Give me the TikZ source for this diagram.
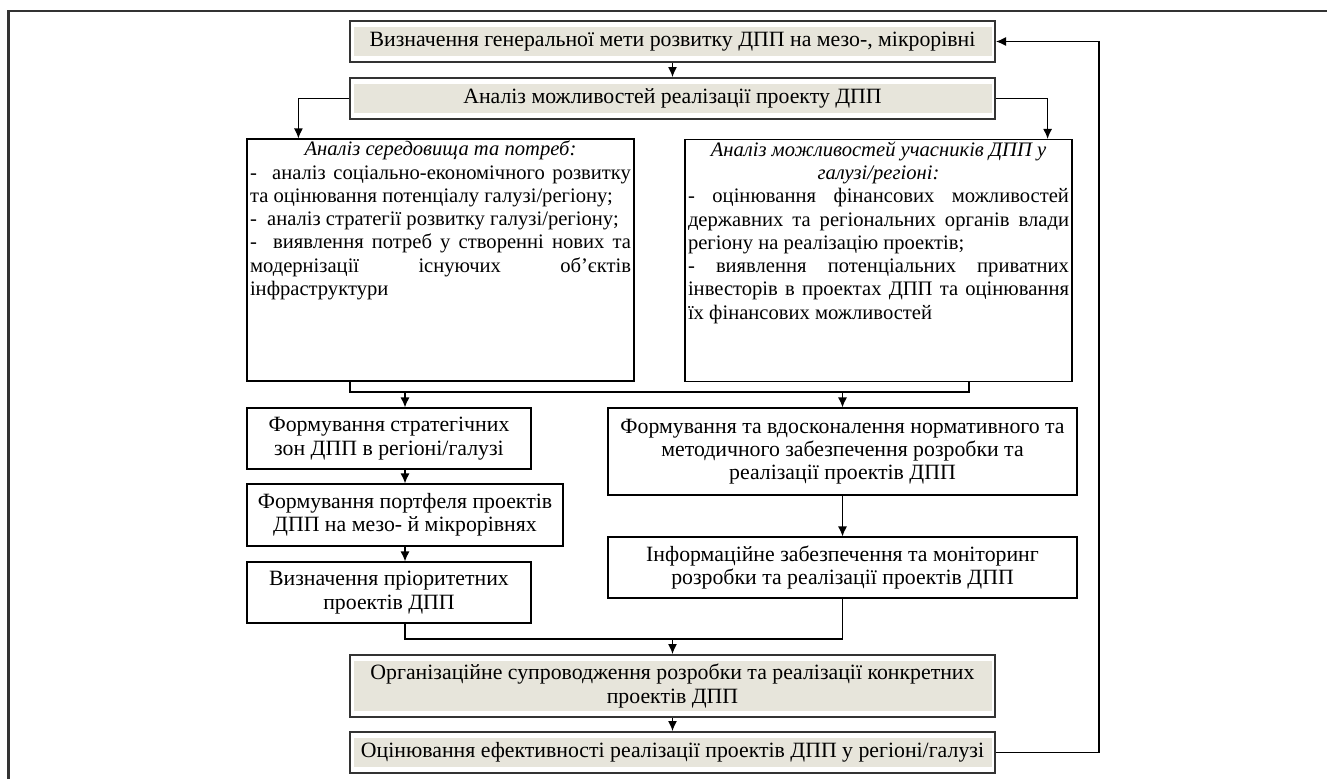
\documentclass[tikz,border=0pt]{standalone}
\usepackage{fontspec}
\setmainfont{Liberation Serif}
\usetikzlibrary{arrows.meta}
\definecolor{boxfill}{RGB}{231,229,219}
\definecolor{framegray}{RGB}{51,51,51}
\tikzset{>={Latex[length=5pt,width=4.5pt]}}
\tikzset{
	greybox/.style={
			draw=framegray, line width=1pt, fill=white, inner sep=0pt,
			minimum width=322.5pt, align=center,
			path picture={\fill[boxfill] ([shift={(1.75pt,3pt)}]path picture bounding box.south west)
					rectangle ([shift={(-1.75pt,-3pt)}]path picture bounding box.north east);}
		},
	whitebox/.style={draw, line width=0.6pt, inner sep=0pt, align=center},
	boxtext/.style={inner xsep=1.5pt, inner ysep=1pt, text width=190.5pt, align=justify,
			font=\fontsize{10.3}{11.65}\selectfont}
}

\begin{document}
\begin{tikzpicture}[x=0.5pt,y=-0.5pt,line width=0.6pt,font=\fontsize{10.9}{11.65}\selectfont]
		\useasboundingbox (0,0) rectangle (1327,778);
		\draw[framegray, line width=1.2pt] (1340,11) -- (8.5,11) -- (8.5,790);

		\node[greybox, minimum height=20.5pt] (goal) at (672.5,41.5) {Визначення генеральної мети розвитку ДПП на мезо-, мікрорівні};
		\node[greybox, minimum height=20.5pt] (anal) at (672.5,98.5) {Аналіз можливостей реалізації проекту ДПП};

		\node[whitebox, minimum width=193.5pt, minimum height=121pt] (env) at (440.5,260) {};
		\node[boxtext, below] (envtext) at (env.north) {{\centering\itshape Аналіз середовища та потреб:\par}
			- \ аналіз соціально-економічного розвитку\linebreak
			та оцінювання потенціалу галузі/регіону;\par
			- \ аналіз стратегії розвитку галузі/регіону;\par
			- \ виявлення потреб у створенні нових та\linebreak
			модернізації існуючих об’єктів\linebreak
			інфраструктури\par};
		\node[whitebox, minimum width=193.5pt, minimum height=121pt] (part) at (878.5,260.5) {};
		\node[boxtext, below] (parttext) at (part.north) {{\centering\itshape Аналіз можливостей учасників ДПП у\\ галузі/регіоні:\par}
			- оцінювання фінансових можливостей\linebreak
			державних та регіональних органів влади\linebreak
			регіону на реалізацію проектів;\par
			- виявлення потенціальних приватних\linebreak
			інвесторів в проектах ДПП та оцінювання\linebreak
			їх фінансових можливостей\par};

		\node[whitebox, minimum width=142pt, minimum height=30.5pt] (strat) at (389,438.5) {Формування стратегічних\\ зон ДПП в регіоні/галузі};
		\node[whitebox, minimum width=158pt, minimum height=31pt] (port) at (405,515) {Формування портфеля проектів\\ ДПП на мезо- й мікрорівнях};
		\node[whitebox, minimum width=142pt, minimum height=30.5pt] (prio) at (389,592.5) {Визначення пріоритетних\\ проектів ДПП};

		\node[whitebox, minimum width=234.5pt, minimum height=43.5pt] (norm) at (842.5,451.5) {Формування та вдосконалення нормативного та\\ методичного забезпечення розробки та\\ реалізації проектів ДПП};
		\node[whitebox, minimum width=234.5pt, minimum height=30.5pt] (info) at (842.5,567.5) {Інформаційне забезпечення та моніторинг\\ розробки та реалізації проектів ДПП};

		\node[greybox, minimum height=31pt] (org) at (672.5,686) {Організаційне супроводження розробки та реалізації конкретних\\ проектів ДПП};
		\node[greybox, minimum height=20.5pt] (eval) at (672.5,752.5) {Оцінювання ефективності реалізації проектів ДПП у регіоні/галузі};

		\coordinate (jl) at (350,392);
		\coordinate (jr) at (969,392);
		\coordinate (jb) at (672.5,639);

		\draw[->] (goal) -- (anal);
		\draw[->] (anal.west) -| ([xshift=26pt]env.north west);
		\draw[->] (anal.east) -| ([xshift=-12.5pt]part.north east);
		\draw (jl |- env.south) -- (jl) -- (jr) -- (jr |- part.south);
		\draw[->] (jl -| port.north) -- (strat.north -| port.north);
		\draw[->] (jl -| norm.north) -- (norm.north);
		\draw[->] (strat.south -| port.north) -- (port.north);
		\draw[->] (port.south) -- (prio.north -| port.south);
		\draw[->] (norm) -- (info);
		\draw (prio.south -| port.south) |- (jb) -| (info.south);
		\draw[->] (jb) -- (org);
		\draw[->] (org) -- (eval);
		\draw[->] (eval.east) -- ++(103,0) |- (goal.east);
	\end{tikzpicture}
\end{document}
